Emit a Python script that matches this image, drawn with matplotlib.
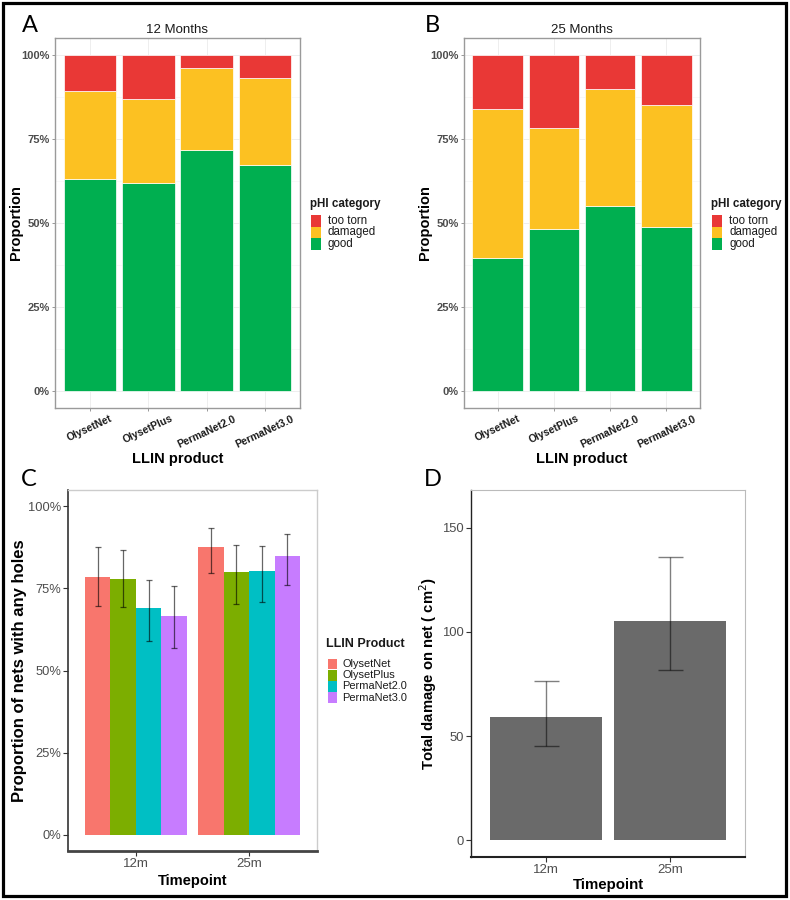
import matplotlib
matplotlib.use("Agg")
import matplotlib.pyplot as plt
from matplotlib.patches import Rectangle
from matplotlib.ticker import FixedLocator
import numpy as np

plt.rcParams['font.family'] = ['Liberation Sans', 'DejaVu Sans']

# ---------------- data ----------------
products = ["OlysetNet", "OlysetPlus", "PermaNet2.0", "PermaNet3.0"]
phi_categories = ["too torn", "damaged", "good"]
phi_colors = ["#E93836", "#FCC122", "#00AF50"]

good_12 = [0.630, 0.619, 0.716, 0.672]
damaged_12 = [0.261, 0.249, 0.244, 0.258]
tootorn_12 = [0.109, 0.132, 0.040, 0.070]

good_25 = [0.395, 0.481, 0.551, 0.489]
damaged_25 = [0.444, 0.300, 0.348, 0.362]
tootorn_25 = [0.161, 0.219, 0.101, 0.149]

timepoints = ["12m", "25m"]
product_colors = ["#F8766D", "#7CAE00", "#00BFC4", "#C77CFF"]
holes_12 = [0.786, 0.780, 0.691, 0.667]
holes_12_lo = [0.698, 0.692, 0.591, 0.570]
holes_12_hi = [0.876, 0.867, 0.777, 0.758]
holes_25 = [0.875, 0.799, 0.804, 0.849]
holes_25_lo = [0.797, 0.702, 0.708, 0.760]
holes_25_hi = [0.934, 0.881, 0.880, 0.915]

damage = [59.2, 105.2]
damage_lo = [45.4, 81.7]
damage_hi = [76.6, 136.1]

W, H = 790, 900
fig = plt.figure(figsize=(W / 100, H / 100), dpi=100)


def px_axes(x0, y0, x1, y1):
    return fig.add_axes([x0 / W, 1 - y1 / H, (x1 - x0) / W, (y1 - y0) / H])


def fig_xy(x, y):
    return x / W, 1 - y / H


GREY_TXT = "#4D4D4D"


def stacked_panel(box, title, good, damaged, torn, leg_x, letter, letter_xy):
    ax = px_axes(*box)
    x = np.arange(1, len(products) + 1)
    layers = [good, damaged, torn]
    cols = [phi_colors[2], phi_colors[1], phi_colors[0]]
    bottom = np.zeros(len(products))
    for vals, c in zip(layers, cols):
        ax.bar(x, vals, width=0.9, bottom=bottom, color=c, edgecolor="white",
               linewidth=0.5, zorder=3)
        bottom = bottom + np.array(vals)
    ax.set_xlim(0.4, len(products) + 0.6)
    ax.set_ylim(-0.05, 1.05)
    ax.set_xticks(x)
    ax.set_xticklabels(products, rotation=25, ha="center", va="top",
                       fontsize=7.5, fontweight="bold", color="#1A1A1A")
    ax.set_yticks([0, 0.25, 0.5, 0.75, 1.0])
    ax.set_yticklabels(["0%", "25%", "50%", "75%", "100%"], fontsize=8,
                       fontweight="bold", color=GREY_TXT)
    ax.yaxis.set_minor_locator(FixedLocator([0.125, 0.375, 0.625, 0.875]))
    ax.grid(True, which="major", color="#EEEEEE", lw=0.7, zorder=0)
    ax.grid(True, which="minor", axis="y", color="#F5F5F5", lw=0.5, zorder=0)
    ax.tick_params(axis="both", which="major", length=2.5, width=0.6,
                   color="#888888", pad=1.5)
    ax.tick_params(axis="y", which="minor", length=0)
    for s in ax.spines.values():
        s.set_color("#9A9A9A")
        s.set_linewidth(1.0)
    ax.set_title(title, fontsize=9.5, pad=3.5, color="#1A1A1A")
    ax.set_xlabel("LLIN product", fontsize=10.5, fontweight="bold", va="center")
    ax.set_ylabel("Proportion", fontsize=10.5, fontweight="bold", va="center")
    x0, y0, x1, y1 = box
    ax.xaxis.set_label_coords(0.5, (y1 - 459) / (y1 - y0))
    ax.yaxis.set_label_coords((leg_x[1] - x0) / (x1 - x0), 0.5)
    # legend
    lx = leg_x[0]
    tx, ty = fig_xy(lx - 1, 204)
    fig.text(tx, ty, "pHI category", fontsize=8.4, fontweight="bold",
             va="center", ha="left", color="#1A1A1A")
    for i, (lab, c) in enumerate(zip(phi_categories, phi_colors)):
        yc = 221 + i * 11.5
        rx, ry = fig_xy(lx, yc + 5.5)
        fig.add_artist(Rectangle((rx, ry), 10.3 / W, 11 / H, transform=fig.transFigure,
                                 facecolor=c, edgecolor="none"))
        txx, tyy = fig_xy(lx + 17, yc)
        fig.text(txx, tyy, lab, fontsize=8.3, va="center", ha="left", color="#1A1A1A")
    lxp, lyp = fig_xy(*letter_xy)
    fig.text(lxp, lyp, letter, fontsize=17, family=["Lato", "DejaVu Sans"],
             ha="center", va="center")
    return ax


stacked_panel((55, 38, 300, 408), "12 Months", good_12, damaged_12, tootorn_12,
              (311, 15.7), "A", (30, 25))
stacked_panel((464, 38, 700, 408), "25 Months", good_25, damaged_25, tootorn_25,
              (712, 425), "B", (432, 26))

# ---------------- Panel C ----------------
boxC = (68, 490, 317, 851)
axC = px_axes(*boxC)
gx = np.arange(1, len(timepoints) + 1)
bw = 0.9 / len(products)
series = [[holes_12[i], holes_25[i]] for i in range(len(products))]
lo = [[holes_12_lo[i], holes_25_lo[i]] for i in range(len(products))]
hi = [[holes_12_hi[i], holes_25_hi[i]] for i in range(len(products))]
for i, (p, c) in enumerate(zip(products, product_colors)):
    xs = gx + (i - (len(products) - 1) / 2) * bw
    v = np.array(series[i])
    axC.bar(xs, v, width=bw, color=c, edgecolor="none", zorder=2)
    err = np.vstack([v - np.array(lo[i]), np.array(hi[i]) - v])
    axC.errorbar(xs, v, yerr=err, fmt="none", ecolor=(0, 0, 0, 0.6),
                 elinewidth=0.9, capsize=2.2, capthick=0.9, zorder=3)
axC.set_xlim(0.4, len(timepoints) + 0.6)
axC.set_ylim(-0.05, 1.05)
axC.set_xticks(gx)
axC.set_xticklabels(timepoints, fontsize=9.5, color=GREY_TXT)
axC.set_yticks([0, 0.25, 0.5, 0.75, 1.0])
axC.set_yticklabels(["0%", "25%", "50%", "75%", "100%"], fontsize=9.3, color=GREY_TXT)
axC.tick_params(axis="both", length=3.5, width=0.8, color="#333333", pad=1.5)
axC.spines["top"].set_color("#CCCCCC")
axC.spines["right"].set_color("#CCCCCC")
axC.spines["top"].set_linewidth(1.0)
axC.spines["right"].set_linewidth(1.0)
axC.spines["left"].set_color("#333333")
axC.spines["left"].set_linewidth(1.2)
axC.spines["bottom"].set_color("#444444")
axC.spines["bottom"].set_linewidth(2.0)
axC.set_xlabel("Timepoint", fontsize=10.5, fontweight="bold", va="center")
axC.set_ylabel("Proportion of nets with any holes", fontsize=12, fontweight="bold",
               va="center")
x0, y0, x1, y1 = boxC
axC.xaxis.set_label_coords(0.5, (y1 - 881.5) / (y1 - y0))
axC.yaxis.set_label_coords((20 - x0) / (x1 - x0), 0.5)

tx, ty = fig_xy(326.5, 644)
fig.text(tx, ty, "LLIN Product", fontsize=9, fontweight="bold", va="center",
         ha="left", color="#1A1A1A")
for i, (p, c) in enumerate(zip(products, product_colors)):
    yc = 664 + i * 11.2
    rx, ry = fig_xy(327.5, yc + 5.3)
    fig.add_artist(Rectangle((rx, ry), 9.5 / W, 10.6 / H, transform=fig.transFigure,
                             facecolor=c, edgecolor="none"))
    txx, tyy = fig_xy(342.5, yc)
    fig.text(txx, tyy, p, fontsize=7.9, va="center", ha="left", color="#1A1A1A")

lxp, lyp = fig_xy(29, 479)
fig.text(lxp, lyp, "C", fontsize=17, family=["Lato", "DejaVu Sans"], ha="center",
         va="center")

# ---------------- Panel D ----------------
boxD = (471, 490, 745, 857)
axD = px_axes(*boxD)
dx = np.arange(1, len(timepoints) + 1)
dv = np.array(damage)
axD.bar(dx, dv, width=0.9, color="#6A6A6A", edgecolor="none", zorder=2)
derr = np.vstack([dv - np.array(damage_lo), np.array(damage_hi) - dv])
axD.errorbar(dx, dv, yerr=derr, fmt="none", ecolor=(0, 0, 0, 0.5), elinewidth=1.0,
             capsize=9, capthick=1.0, zorder=3)
axD.set_xlim(0.4, len(timepoints) + 0.6)
axD.set_ylim(-8, 168)
axD.set_xticks(dx)
axD.set_xticklabels(timepoints, fontsize=9.5, color=GREY_TXT)
axD.set_yticks([0, 50, 100, 150])
axD.set_yticklabels(["0", "50", "100", "150"], fontsize=9.4, color=GREY_TXT)
axD.tick_params(axis="both", length=3.5, width=0.8, color="#333333", pad=1.5)
axD.spines["top"].set_color("#BBBBBB")
axD.spines["right"].set_color("#BBBBBB")
axD.spines["left"].set_color("#222222")
axD.spines["left"].set_linewidth(1.0)
axD.spines["bottom"].set_color("#222222")
axD.spines["bottom"].set_linewidth(1.5)
axD.set_xlabel("Timepoint", fontsize=10.8, fontweight="bold", va="center")
axD.set_ylabel("Total damage on net ( cm$^{2}$)", fontsize=10.7, fontweight="bold",
               va="center")
x0, y0, x1, y1 = boxD
axD.xaxis.set_label_coords(0.5, (y1 - 885) / (y1 - y0))
axD.yaxis.set_label_coords((427.7 - x0) / (x1 - x0), 0.5)

lxp, lyp = fig_xy(433, 479)
fig.text(lxp, lyp, "D", fontsize=17, family=["Lato", "DejaVu Sans"], ha="center",
         va="center")

# outer frame
fx, fy = fig_xy(3, 895.5)
fig.add_artist(Rectangle((fx, fy), (785.5 - 3) / W, (895.5 - 3) / H,
                         transform=fig.transFigure, fill=False, lw=2.3,
                         edgecolor="black"))

fig.savefig("out.png", dpi=100)
